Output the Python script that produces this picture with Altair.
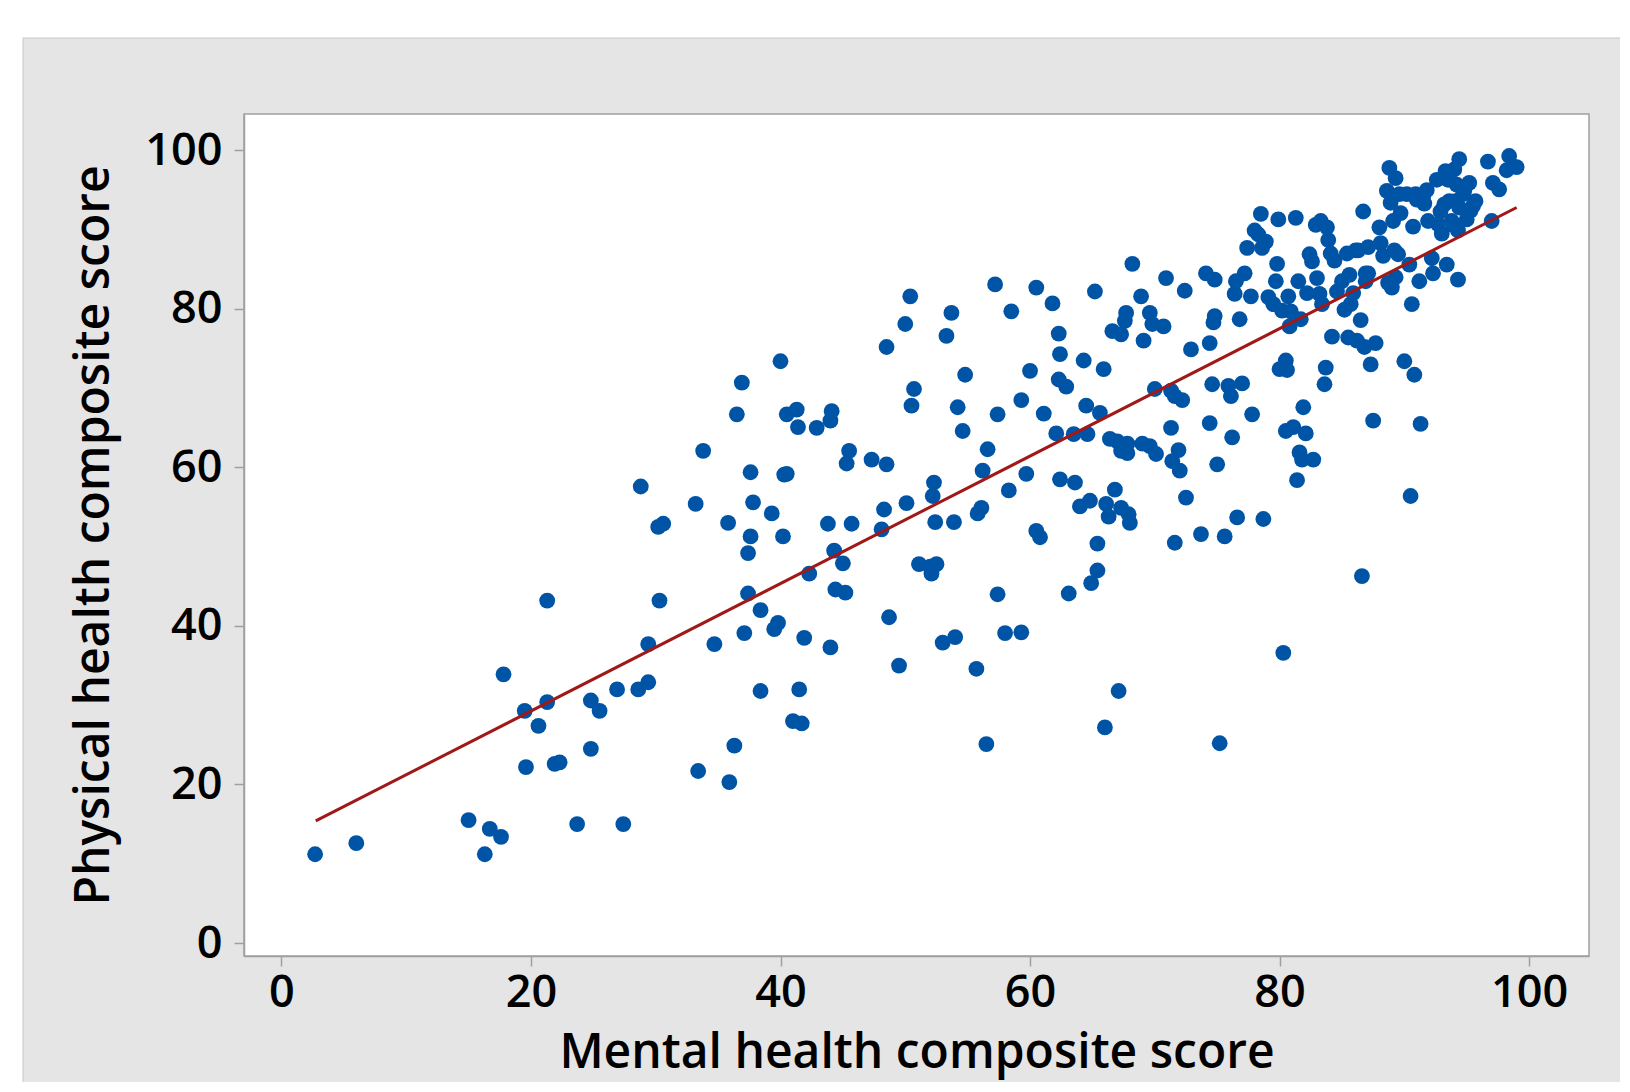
import altair as alt
import pandas as pd

# Mental health composite score (x) for each respondent
mental = [
    2.7, 6.0, 15.0, 16.3, 16.7, 17.6, 17.8, 19.5, 19.6, 20.6,
    21.3, 21.3, 21.9, 22.3, 23.7, 24.8, 24.8, 25.5, 26.9, 27.4,
    28.6, 28.8, 29.4, 29.4, 30.2, 30.6, 30.3, 33.2, 33.4, 33.8,
    34.7, 35.8, 35.9, 36.3, 36.5, 36.9, 37.1, 37.4, 37.4, 37.6,
    37.6, 37.8, 38.4, 38.4, 39.3, 39.5, 39.8, 40.0, 40.2, 40.3,
    40.5, 40.5, 41.0, 41.3, 41.4, 41.5, 41.7, 41.9, 42.3, 42.9,
    43.8, 44.0, 44.1, 44.0, 44.3, 44.4, 45.0, 45.2, 45.3, 45.5,
    45.7, 47.3, 48.1, 48.3, 48.5, 48.5, 48.7, 49.5, 50.0, 50.4,
    50.5, 50.7, 50.1, 51.1, 52.0, 52.1, 52.2, 52.3, 52.4, 52.5,
    53.0, 53.3, 53.7, 53.9, 54.0, 54.2, 54.6, 54.8, 55.7, 55.8,
    56.1, 56.2, 56.6, 56.5, 57.2, 57.4, 57.4, 58.0, 58.3, 58.5,
    59.3, 59.3, 59.7, 60.0, 60.5, 60.5, 60.8, 61.1, 61.8, 62.3,
    62.4, 62.4, 62.1, 62.3, 62.9, 63.1, 63.5, 63.6, 64.0, 64.3,
    64.5, 64.6, 64.8, 64.9, 65.2, 65.4, 65.4, 65.6, 65.9, 66.0,
    66.1, 66.3, 66.4, 66.6, 66.8, 67.0, 67.1, 67.3, 67.3, 67.3,
    67.6, 67.7, 67.8, 67.8, 67.9, 68.0, 68.2, 68.9, 69.1, 69.0,
    69.6, 69.6, 69.8, 70.0, 70.1, 70.7, 70.9, 71.3, 71.3, 71.4,
    71.6, 71.6, 71.9, 72.0, 72.2, 72.4, 72.5, 72.9, 73.7, 74.1,
    74.4, 74.4, 74.6, 74.7, 74.8, 74.8, 75.0, 75.2, 75.6, 75.9,
    76.1, 76.2, 76.4, 76.5, 76.6, 76.8, 77.0, 77.2, 77.4, 77.7,
    77.8, 78.0, 78.3, 78.5, 78.6, 78.7, 78.9, 79.1, 79.5, 79.7,
    79.8, 79.9, 80.0, 80.2, 80.3, 80.5, 80.5, 80.6, 80.7, 80.8,
    80.9, 81.1, 81.3, 81.4, 81.5, 81.6, 81.7, 81.8, 81.9, 82.1,
    82.2, 82.4, 82.6, 82.7, 82.9, 83.0, 83.2, 83.3, 83.4, 83.6,
    83.7, 83.8, 83.9, 84.1, 84.2, 84.4, 84.6, 85.0, 85.2, 85.4,
    85.5, 85.6, 85.7, 85.9, 86.1, 86.2, 86.3, 86.5, 86.6, 86.7,
    86.8, 86.9, 86.9, 87.1, 87.1, 87.3, 87.5, 87.7, 88.0, 88.1,
    88.3, 88.6, 88.7, 88.8, 88.9, 89.0, 89.1, 89.2, 89.3, 89.3,
    89.5, 89.6, 89.7, 90.0, 90.2, 90.4, 90.5, 90.6, 90.7, 90.8,
    90.9, 91.0, 91.2, 91.3, 91.5, 91.6, 91.8, 91.9, 92.2, 92.3,
    92.6, 92.7, 92.9, 93.0, 93.2, 93.3, 93.4, 93.5, 93.6, 93.8,
    93.9, 94.0, 94.1, 94.2, 94.3, 94.3, 94.4, 94.4, 94.7, 94.8,
    95.0, 95.2, 95.3, 95.5, 95.7, 96.7, 97.0, 97.1, 97.6, 98.2,
    98.4, 98.7, 99.0,
]

# Physical health composite score (y), same order
physical = [
    11.2, 12.6, 15.5, 11.2, 14.4, 13.4, 33.9, 29.3, 22.2, 27.4,
    43.2, 30.4, 22.6, 22.8, 15.0, 30.6, 24.5, 29.3, 32.0, 15.0,
    32.0, 57.6, 32.9, 37.7, 52.5, 52.9, 43.2, 55.4, 21.7, 62.1,
    37.7, 53.0, 20.3, 24.9, 66.7, 70.7, 39.1, 49.2, 44.1, 51.3,
    59.4, 55.6, 42.0, 31.8, 54.2, 39.6, 40.4, 73.4, 51.3, 59.1,
    66.7, 59.2, 28.0, 67.3, 65.1, 32.0, 27.7, 38.5, 46.6, 65.0,
    52.9, 65.9, 67.1, 37.3, 49.5, 44.6, 47.9, 44.2, 60.5, 62.1,
    52.9, 61.0, 52.2, 54.7, 60.4, 75.2, 41.1, 35.0, 78.1, 81.6,
    67.8, 69.9, 55.5, 47.8, 47.5, 46.6, 56.4, 58.1, 53.1, 47.8,
    37.9, 76.6, 79.5, 53.1, 38.6, 67.6, 64.6, 71.7, 34.6, 54.2,
    54.9, 59.6, 62.3, 25.1, 83.1, 66.7, 44.0, 39.1, 57.1, 79.7,
    68.5, 39.2, 59.2, 72.2, 82.7, 52.0, 51.2, 66.8, 80.7, 76.9,
    74.3, 58.5, 64.3, 71.1, 70.2, 44.1, 64.2, 58.1, 55.1, 73.5,
    67.8, 64.2, 55.8, 45.4, 82.2, 47.0, 50.4, 66.9, 72.4, 27.2,
    55.4, 53.8, 63.6, 77.2, 57.2, 63.3, 31.8, 54.9, 62.1, 76.8,
    78.5, 79.5, 63.0, 61.8, 54.1, 53.0, 85.7, 81.6, 76.0, 63.0,
    79.5, 62.7, 78.1, 69.9, 61.7, 77.8, 83.9, 69.7, 65.0, 60.8,
    50.5, 69.0, 62.2, 59.6, 68.5, 82.3, 56.2, 74.9, 51.6, 84.5,
    65.6, 75.7, 70.5, 78.3, 83.7, 79.1, 60.4, 25.2, 51.3, 70.3,
    69.0, 63.8, 81.9, 83.5, 53.7, 78.7, 70.6, 84.5, 87.7, 81.6,
    66.7, 89.9, 89.4, 92.0, 87.7, 53.5, 88.5, 81.5, 80.6, 83.5,
    85.7, 91.3, 72.4, 79.8, 36.6, 64.6, 73.5, 72.3, 81.6, 77.8,
    79.7, 65.1, 91.5, 58.4, 83.5, 61.9, 78.7, 61.0, 67.6, 64.3,
    82.0, 86.9, 86.0, 61.0, 90.6, 83.9, 81.9, 91.1, 80.6, 70.5,
    72.6, 90.3, 88.7, 87.0, 76.5, 86.1, 82.2, 83.5, 79.9, 87.0,
    76.4, 84.3, 80.6, 82.0, 87.4, 76.0, 87.4, 78.6, 46.3, 92.3,
    75.2, 83.5, 84.5, 84.5, 87.8, 73.0, 65.9, 75.7, 90.3, 88.3,
    86.7, 94.9, 83.3, 97.8, 93.4, 82.7, 91.1, 87.4, 96.5, 84.0,
    86.9, 94.5, 92.1, 73.4, 94.5, 85.6, 56.4, 80.6, 90.4, 71.7,
    94.5, 93.8, 83.5, 65.5, 94.1, 93.3, 95.0, 91.1, 86.4, 84.5,
    96.3, 90.7, 92.3, 89.5, 93.2, 97.4, 85.6, 96.3, 93.6, 91.1,
    90.6, 97.6, 93.6, 95.7, 83.7, 89.9, 98.9, 92.8, 94.5, 94.9,
    91.3, 95.9, 92.4, 93.0, 93.6, 98.6, 91.1, 95.9, 95.1, 97.5,
    99.3, 98.0, 97.9,
]

# Fitted regression line end points
fit_mental = [2.75, 99.0]
fit_physical = [15.4, 92.8]

x_ticks = [0, 20, 40, 60, 80, 100]
y_ticks = [0, 20, 40, 60, 80, 100]

X_TITLE = "Mental health composite score"
Y_TITLE = "Physical health composite score"

# ---- layout ----
W, H = 1345, 842
PAD_L, PAD_T = 236, 106
TOTAL_W, TOTAL_H = 1612, 1074
FONT = "Open Sans"
AXIS_GREY = "#a0a0a0"

pts = pd.DataFrame({"m": mental, "p": physical})
fit = pd.DataFrame({"m": fit_mental, "p": fit_physical})
one = pd.DataFrame({"k": [0]})

xs = alt.Scale(domain=[-3.0, 104.8], nice=False, zero=False)
ys = alt.Scale(domain=[-1.64, 104.6], nice=False, zero=False)

common_axis = dict(
    grid=False, domainColor=AXIS_GREY, domainWidth=1.5,
    tickColor=AXIS_GREY, tickWidth=1.5, tickSize=10,
    labelFont=FONT, labelFontSize=45, labelColor="black", labelFontWeight=600,
    titleFont=FONT, titleFontSize=48, titleFontWeight=600,
    titleColor="black", zindex=1, labelOverlap=False,
)
x_axis = alt.Axis(values=x_ticks, title=X_TITLE, labelPadding=4,
                  titlePadding=14, **common_axis)
y_axis = alt.Axis(values=y_ticks, title=Y_TITLE, labelPadding=12,
                  titlePadding=26, **common_axis)

panel = alt.Chart(one).mark_rect(
    fill="#e5e5e5", stroke="#c8c8c8", strokeWidth=1
).encode(
    x=alt.value(-221), x2=alt.value(TOTAL_W - PAD_L + 10),
    y=alt.value(-76), y2=alt.value(TOTAL_H - PAD_T + 10),
)

plot_bg = alt.Chart(one).mark_rect(
    fill="white", stroke=AXIS_GREY, strokeWidth=1.5
).encode(
    x=alt.value(0), x2=alt.value(W), y=alt.value(0), y2=alt.value(H),
)

points = alt.Chart(pts).mark_circle(
    size=250, color="#0054a6", opacity=1
).encode(
    x=alt.X("m:Q", scale=xs, axis=x_axis),
    y=alt.Y("p:Q", scale=ys, axis=y_axis),
)

line = alt.Chart(fit).mark_line(color="#a01818", strokeWidth=3).encode(
    x=alt.X("m:Q", scale=xs),
    y=alt.Y("p:Q", scale=ys),
)

chart = alt.layer(panel, plot_bg, points, line).properties(
    width=W, height=H,
    background="white",
    autosize=alt.AutoSizeParams(type="none"),
    padding={"left": PAD_L, "top": PAD_T,
             "right": TOTAL_W - PAD_L - W, "bottom": TOTAL_H - PAD_T - H},
).configure_view(stroke=None)

chart.save("out.html", embed_options={"renderer": "svg", "actions": False})
